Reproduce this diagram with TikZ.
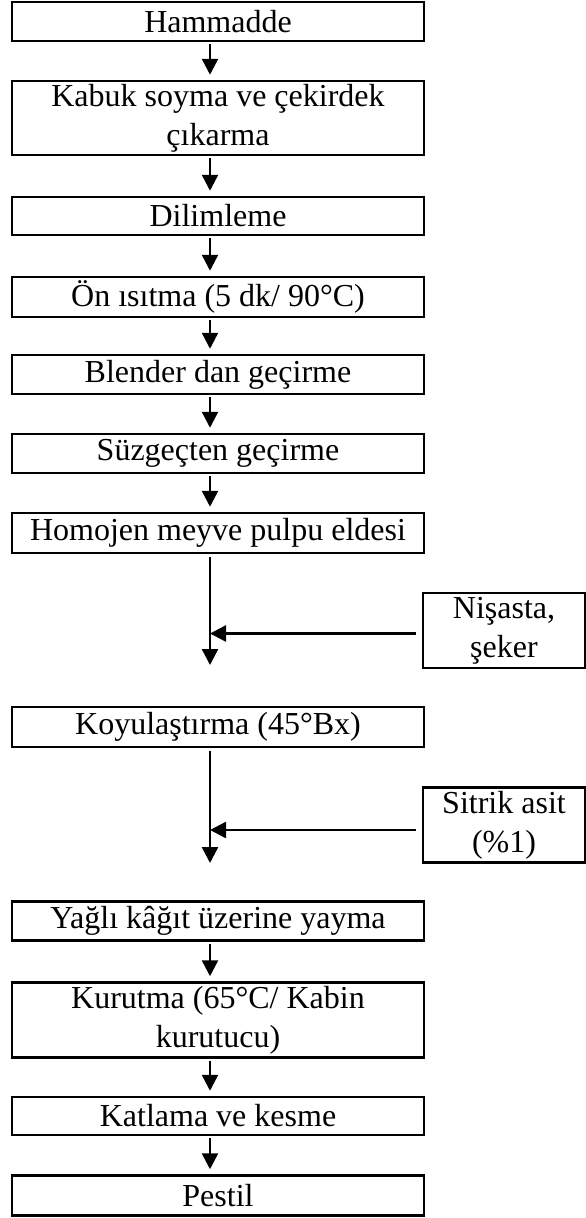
\documentclass[tikz,border=0pt]{standalone}
\usepackage{fontspec}
\setmainfont{Liberation Serif}
\usetikzlibrary{arrows.meta}
\begin{document}
\begin{tikzpicture}[x=1pt,y=-1pt,
  box/.style={draw, line width=2.5pt, minimum width=412pt, inner sep=0pt, align=center, font=\fontsize{32}{39}\selectfont},
  sidebox/.style={draw, line width=2.5pt, minimum width=162pt, minimum height=75pt, inner sep=0pt, align=center, font=\fontsize{32}{39}\selectfont},
  arr/.style={line width=2.4pt, -{Triangle[width=16pt,length=16pt]}}]
\useasboundingbox (0,0) rectangle (586,1218);
\coordinate (ax) at (210,0);
\node[box, minimum height=39pt] (n1) at (218,21.5) {Hammadde};
\node[box, minimum height=74pt] (n2) at (218,118) {Kabuk soyma ve çekirdek\\çıkarma};
\node[box, minimum height=38pt] (n3) at (218,216) {Dilimleme};
\node[box, minimum height=40pt] (n4) at (218,297) {Ön ısıtma (5 dk/ 90°C)};
\node[box, minimum height=39pt] (n5) at (218,374.5) {Blender dan geçirme};
\node[box, minimum height=39pt] (n6) at (218,453.5) {Süzgeçten geçirme};
\node[box, minimum height=40pt] (n7) at (218,533) {Homojen meyve pulpu eldesi};
\node[sidebox] (s1) at (504,630.5) {Nişasta,\\şeker};
\node[box, minimum height=40pt] (n8) at (218,727) {Koyulaştırma (45°Bx)};
\node[sidebox] (s2) at (504,825) {Sitrik asit\\(\%1)};
\node[box, minimum height=39pt] (n9) at (218,921) {Yağlı kâğıt üzerine yayma};
\node[box, minimum height=75pt] (n10) at (218,1020) {Kurutma (65°C/ Kabin\\kurutucu)};
\node[box, minimum height=38pt] (n11) at (218,1116) {Katlama ve kesme};
\node[box, minimum height=40pt] (n12) at (218,1195.5) {Pestil};
\coordinate (e1) at (210,665);
\coordinate (e2) at (210,863);
\foreach \a/\b in {n1/n2,n2/n3,n3/n4,n4/n5,n5/n6,n6/n7,n9/n10,n10/n11,n11/n12}
  \draw[arr, shorten <=2pt, shorten >=5pt] (\a.south -| ax) -- (\b.north -| ax);
\draw[arr, shorten <=3pt] (n7.south -| ax) -- (e1);
\draw[arr, shorten <=3pt] (n8.south -| ax) -- (e2);
\draw[arr, shorten <=6pt] ([yshift=-3pt]s1.west) -- ([yshift=-3pt]s1.west -| ax);
\draw[arr, shorten <=6pt] ([yshift=-5pt]s2.west) -- ([yshift=-5pt]s2.west -| ax);
\end{tikzpicture}
\end{document}
